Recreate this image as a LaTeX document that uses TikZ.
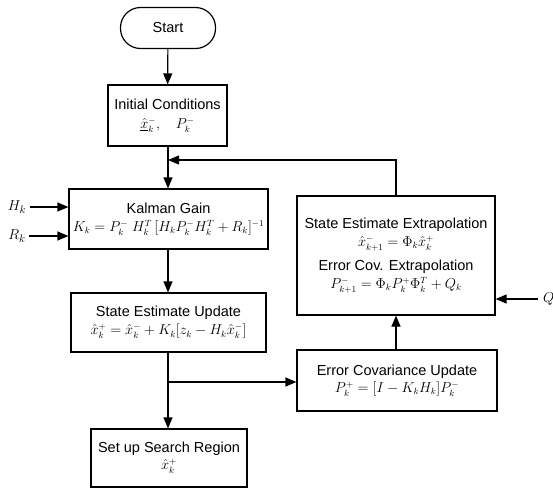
\documentclass[tikz,border=0pt]{standalone}
\usepackage{fontspec}
\setmainfont{Liberation Sans}
\usetikzlibrary{arrows.meta}
\newcommand{\mf}[1]{{\fontsize{13.5}{16}\selectfont$#1$}}
\newcommand{\lf}[1]{{\fontsize{15}{18}\selectfont$#1$}}
\begin{document}
\begin{tikzpicture}[x=1pt,y=1pt,
  font=\fontsize{14.5}{17}\selectfont,
  box/.style={draw,line width=1.2pt,align=center,inner sep=0pt},
  arr/.style={line width=1.2pt,-{Triangle[length=11pt,width=9pt]}},
  ln/.style={line width=1.2pt}]
\useasboundingbox (0,0) rectangle (553,-490);
\node[box,rounded corners=20pt,minimum width=95pt,minimum height=41pt] (start) at (168,-28) {Start};
\node[box,minimum width=119pt,minimum height=61pt] (init) at (167.5,-115.5)
  {Initial Conditions\\[2pt] \mf{\underline{\hat{x}}{}_k^-,\quad P_k^-}};
\node[box,minimum width=199pt,minimum height=60pt] (kal) at (168.5,-219)
  {Kalman Gain\\[1pt] \mf{K_k = P_k^-\;H_k^T\,[H_kP_k^-H_k^T + R_k]^{-1}}};
\node[box,minimum width=195pt,minimum height=59pt] (seu) at (168.5,-322.5)
  {State Estimate Update\\[1pt] \mf{\hat{x}_k^+ = \hat{x}_k^- + K_k[z_k - H_k\hat{x}_k^-]}};
\node[box,minimum width=156pt,minimum height=58pt] (sr) at (169,-458)
  {Set up Search Region\\[0pt] \mf{\hat{x}_k^+}};
\node[box,minimum width=198pt,minimum height=119pt] (ext) at (396,-255.5)
  {State Estimate Extrapolation\\[1pt] \mf{\hat{x}_{k+1}^- = \Phi_k\hat{x}_k^+}\\[7pt]
   Error Cov. Extrapolation\\[1pt] \mf{P_{k+1}^- = \Phi_kP_k^+\Phi_k^T + Q_k}};
\node[box,minimum width=200pt,minimum height=61pt] (ecu) at (397,-380.5)
  {Error Covariance Update\\[0pt] \mf{P_k^+ = [I - K_kH_k]P_k^-}};
\node (hk) at (17,-207) {\lf{H_k}};
\node (rk) at (17,-236) {\lf{R_k}};
\node[anchor=west,inner sep=0pt] (qk) at (543,-299) {\lf{Q_k}};
\coordinate (join) at (168,-160);
\coordinate (br) at (168,-382);
\coordinate (qs) at (538,-299);
\draw[arr] (start) -- (init);
\draw[ln] (init.south -| join) -- (join);
\draw[arr] (join) -- (join |- kal.north);
\draw[arr] (ext.north) |- (join);
\draw[arr] (hk.east) -- (kal.west |- hk);
\draw[arr] (rk.east) -- (kal.west |- rk);
\draw[arr] (kal.south -| join) -- (join |- seu.north);
\draw[arr] (seu.south -| join) -- (join |- sr.north);
\draw[arr] (br) -- (ecu.west |- br);
\draw[arr] (ecu.north -| ext.north) -- (ext.south);
\draw[arr] (qs) -- (ext.east |- qs);
\end{tikzpicture}
\end{document}
